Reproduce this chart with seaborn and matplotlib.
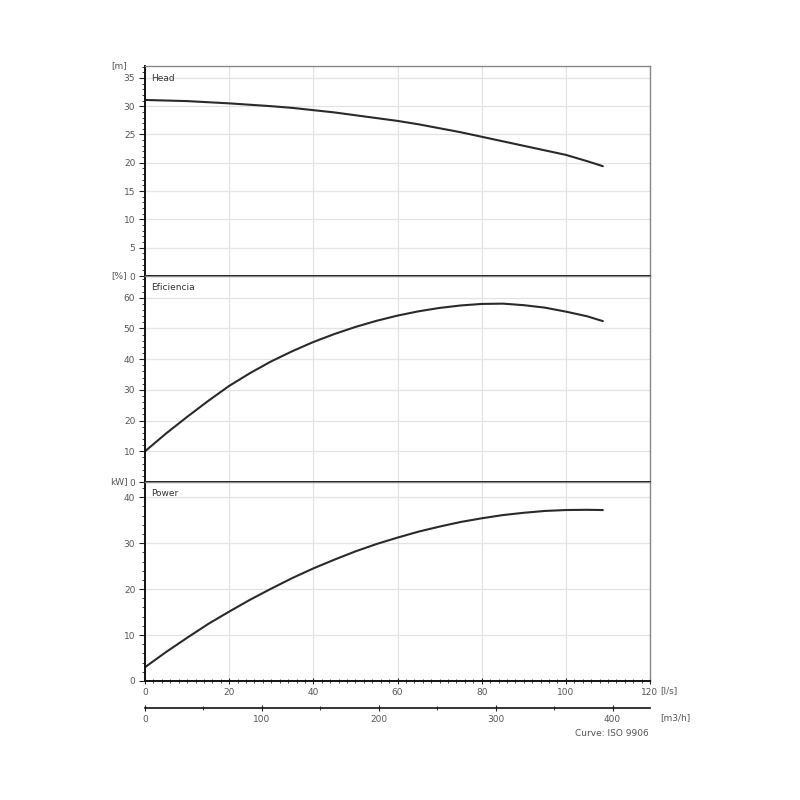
import numpy as np
import pandas as pd
import matplotlib
matplotlib.use('Agg')
import matplotlib.pyplot as plt
from matplotlib.ticker import MultipleLocator
import seaborn as sns

# Caudal [l/s]
flow = [0, 5, 10, 15, 20, 25, 30, 35, 40, 45, 50, 55, 60, 65, 70, 75, 80, 85, 90, 95, 100, 105, 108.8]
# Curvas
head = [31.1, 31.0, 30.9, 30.7, 30.5, 30.25, 30.0, 29.7, 29.3, 28.9, 28.4, 27.9, 27.4, 26.8,
        26.1, 25.4, 24.6, 23.8, 23.0, 22.2, 21.4, 20.3, 19.4]
eficiencia = [10.0, 15.8, 21.2, 26.4, 31.3, 35.5, 39.3, 42.6, 45.6, 48.2, 50.5, 52.5, 54.2, 55.6,
              56.7, 57.5, 58.0, 58.1, 57.6, 56.8, 55.5, 54.0, 52.4]
power = [3.0, 6.3, 9.4, 12.4, 15.1, 17.7, 20.1, 22.4, 24.5, 26.4, 28.2, 29.8, 31.2, 32.5,
         33.6, 34.6, 35.4, 36.1, 36.6, 37.0, 37.2, 37.25, 37.2]

df = pd.DataFrame({'Q': flow, 'Head': head, 'Eficiencia': eficiencia, 'Power': power})

sns.set_theme(style='white')
plt.rcParams['font.family'] = ['DejaVu Sans']

fig = plt.figure(figsize=(8, 8), dpi=100)
W, H = 800, 800
left, right = 145, 650

# (top_px, bottom_px, ylim, major, minor, label, unit)
paneles = [
    (66, 276, 37.1, 5, 1, 'Head', '[m]'),
    (276, 482, 67.1, 10, 2, 'Eficiencia', '[%]'),
    (482, 681, 43.3, 10, 2, 'Power', 'kW]'),
]
cols = ['Head', 'Eficiencia', 'Power']
gris = '#555555'
axes = []
for (top, bot, ymax, maj, mnr, nombre, unidad), col in zip(paneles, cols):
    ax = fig.add_axes([left / W, 1 - bot / H, (right - left) / W, (bot - top) / H])
    sns.lineplot(data=df, x='Q', y=col, ax=ax, color='#2a2a2a', linewidth=1.5)
    ax.set_xlim(0, 120)
    ax.set_ylim(0, ymax)
    ax.xaxis.set_major_locator(MultipleLocator(20))
    ax.xaxis.set_minor_locator(MultipleLocator(2))
    ax.yaxis.set_major_locator(MultipleLocator(maj))
    ax.yaxis.set_minor_locator(MultipleLocator(mnr))
    ax.grid(True, which='major', color='#e3e3e3', linewidth=0.9)
    ax.set_xlabel('')
    ax.set_ylabel('')
    for s in ['top', 'right']:
        ax.spines[s].set_color('#888888')
        ax.spines[s].set_linewidth(1.0)
    for s in ['left', 'bottom']:
        ax.spines[s].set_color('#111111')
        ax.spines[s].set_linewidth(1.4)
    ax.tick_params(axis='y', which='major', direction='out', length=4, width=0.8,
                   color='#222222', labelsize=6.5, labelcolor=gris, pad=3, left=True)
    ax.tick_params(axis='y', which='minor', direction='out', length=2, width=0.6,
                   color='#222222', left=True)
    ax.text(0.012, 0.93, nombre, transform=ax.transAxes, fontsize=6.5, color='#333333')
    ax.text(-0.035, 1.0, unidad, transform=ax.transAxes, fontsize=6.5, color=gris,
            ha='right', va='center')
    axes.append(ax)

for ax in axes[:2]:
    ax.tick_params(axis='x', which='both', bottom=False, labelbottom=False)

ax3 = axes[2]
ax3.tick_params(axis='x', which='major', direction='inout', length=4, width=0.8,
                color='#222222', labelsize=6.5, labelcolor=gris, pad=3, bottom=True)
ax3.tick_params(axis='x', which='minor', direction='inout', length=3, width=0.6,
                color='#222222', bottom=True)
ax3.text(1.02, -0.05, '[l/s]', transform=ax3.transAxes, fontsize=6.5, color=gris,
         ha='left', va='center')

sec = ax3.secondary_xaxis(-27 / 199, functions=(lambda q: q * 3.6, lambda m: m / 3.6))
sec.xaxis.set_major_locator(MultipleLocator(100))
sec.xaxis.set_minor_locator(MultipleLocator(50))
sec.spines['bottom'].set_color('#111111')
sec.spines['bottom'].set_linewidth(1.2)
sec.tick_params(axis='x', which='major', direction='inout', length=4, width=0.8,
                color='#222222', labelsize=6.5, labelcolor=gris, pad=3)
sec.tick_params(axis='x', which='minor', direction='inout', length=3, width=0.6,
                color='#222222')
ax3.text(1.02, -27 / 199 - 0.05, '[m3/h]', transform=ax3.transAxes, fontsize=6.5,
         color=gris, ha='left', va='center')

fig.text(612 / W, 1 - 733 / H, 'Curve: ISO 9906', fontsize=6.5, color=gris,
         ha='center', va='center')

fig.savefig('out.png', dpi=100, facecolor='white')
